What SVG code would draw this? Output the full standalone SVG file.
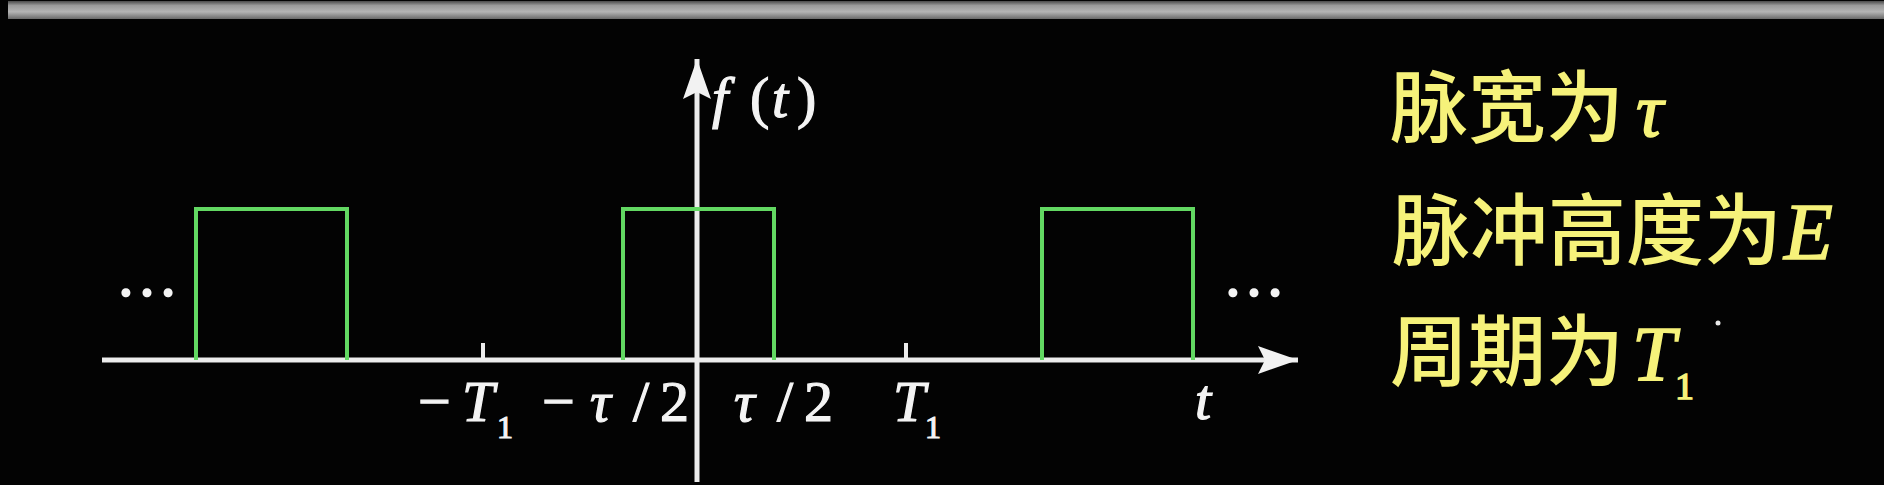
<svg xmlns="http://www.w3.org/2000/svg" width="1884" height="485" viewBox="0 0 1884 485">
<defs>
<linearGradient id="barG" x1="0" y1="0" x2="0" y2="1">
<stop offset="0" stop-color="#4a4a4a"/>
<stop offset="0.25" stop-color="#9a9a9a"/>
<stop offset="0.6" stop-color="#b4b4b4"/>
<stop offset="1" stop-color="#6a6a6a"/>
</linearGradient>
<marker id="arr" viewBox="0 0 40 28" refX="40" refY="14" markerWidth="40" markerHeight="28" markerUnits="userSpaceOnUse" orient="auto">
<path d="M0,0 L40,14 L0,28 L7,14 Z" fill="#f2f2f2"/>
</marker>
<style>
.ax{stroke:#ececec;stroke-width:5;fill:none}
.tick{stroke:#ececec;stroke-width:4;fill:none}
.pulse{stroke:#62d862;stroke-width:4;fill:none;stroke-linejoin:miter}
.lbl{font-family:"Liberation Serif","Times New Roman",serif;fill:#f4f4f4;stroke:#f4f4f4;stroke-width:1.2;font-size:58px}
.it{font-style:italic}
.sub{font-size:32px}
.note{font-family:"Noto Sans CJK SC","Liberation Serif",sans-serif;fill:#f6f27a;font-size:78px;font-weight:500}
.math{font-family:"Liberation Serif","Times New Roman",serif;font-style:italic;stroke:#f6f27a;stroke-width:1.5}
.up{font-style:normal}
.dots{font-family:"Liberation Serif","Times New Roman",serif;fill:#f4f4f4;stroke:#f4f4f4;stroke-width:1.5;font-size:63px}
</style>
</defs>
<rect x="0" y="0" width="1884" height="485" fill="#030303"/>
<rect x="8" y="1" width="1876" height="18" fill="url(#barG)"/>

<g id="connectors">
<line class="ax" x1="102" y1="360" x2="1298" y2="360" marker-end="url(#arr)"/>
<line class="ax" x1="697" y1="482" x2="697" y2="59" marker-end="url(#arr)"/>
<line class="tick" x1="483" y1="343" x2="483" y2="360"/>
<line class="tick" x1="906" y1="343" x2="906" y2="360"/>
</g>

<g id="pulse1"><polyline class="pulse" points="196,360 196,209 347,209 347,360"/></g>
<g id="pulse2"><polyline class="pulse" points="623,360 623,209 774,209 774,360"/></g>
<g id="pulse3"><polyline class="pulse" points="1042,360 1042,209 1193,209 1193,360"/></g>

<g id="ellipsis-left"><text class="dots" x="147" y="296" text-anchor="middle">…</text></g>
<g id="ellipsis-right"><text class="dots" x="1254" y="296" text-anchor="middle">…</text></g>

<g id="label-ft"><text class="lbl" y="117"><tspan class="it" x="712">f</tspan><tspan x="750">(</tspan><tspan class="it" x="772">t</tspan><tspan x="797">)</tspan></text></g>

<g id="label-negT1"><text class="lbl" y="421"><tspan x="418">−</tspan><tspan class="it" x="462">T</tspan><tspan class="sub" x="497" y="438">1</tspan></text></g>
<g id="label-negtau2"><text class="lbl" y="421"><tspan x="542">−</tspan><tspan class="it" x="590">τ</tspan><tspan x="633">/</tspan><tspan x="660">2</tspan></text></g>
<g id="label-tau2"><text class="lbl" y="421"><tspan class="it" x="734">τ</tspan><tspan x="777">/</tspan><tspan x="804">2</tspan></text></g>
<g id="label-T1"><text class="lbl" y="421"><tspan class="it" x="893">T</tspan><tspan class="sub" x="925" y="438">1</tspan></text></g>
<g id="label-t"><text class="lbl it" x="1195" y="419">t</text></g>

<g id="note1"><text class="note" x="1390" y="136">脉宽为<tspan class="math" x="1636" font-size="76">τ</tspan></text></g>
<g id="note2"><text class="note" x="1392" y="259">脉冲高度为<tspan class="math" x="1784" font-size="80">E</tspan></text></g>
<g id="note3"><text class="note" x="1390" y="380">周期为<tspan class="math" x="1632" font-size="78">T</tspan><tspan class="math up" x="1675" y="399" font-size="38">1</tspan></text></g>
<circle cx="1718" cy="323" r="2.5" fill="#e8e8e8"/>
</svg>
